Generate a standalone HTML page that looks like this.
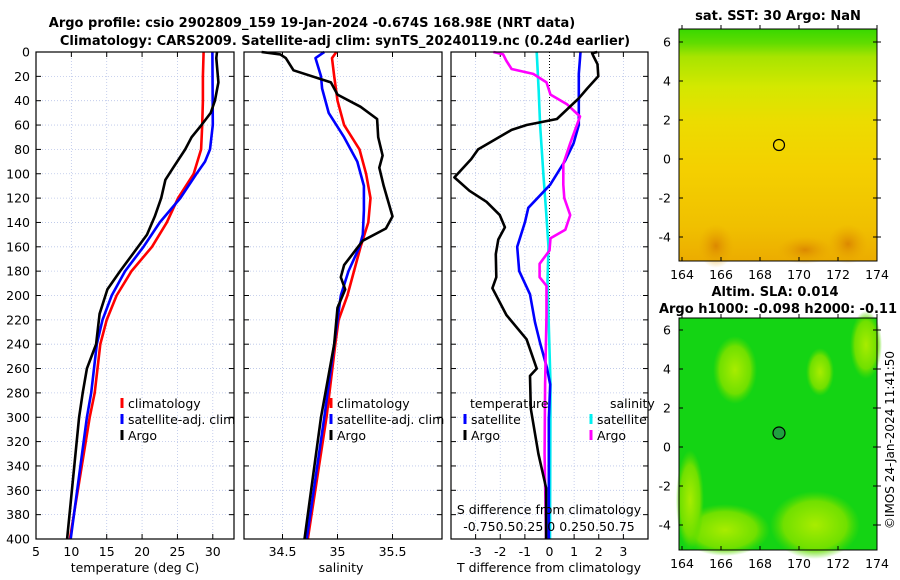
<!DOCTYPE html>
<html><head><meta charset="utf-8">
<style>
body{margin:0;background:#fff;}
svg{display:block;font-family:"DejaVu Sans","Liberation Sans",sans-serif;}
</style></head>
<body>
<svg id="c" width="900" height="580" viewBox="0 0 900 580">
<defs>
<linearGradient id="sstg" x1="0" y1="0" x2="0" y2="1">
<stop offset="0" stop-color="#38d800"/><stop offset="0.06" stop-color="#60dc00"/><stop offset="0.12" stop-color="#a8e400"/><stop offset="0.25" stop-color="#d4e800"/><stop offset="0.4" stop-color="#ecdc00"/><stop offset="0.6" stop-color="#f4d000"/><stop offset="0.85" stop-color="#f0c000"/><stop offset="1" stop-color="#ecac00"/>
</linearGradient>
<radialGradient id="org" cx="0.5" cy="0.5" r="0.5"><stop offset="0" stop-color="#dc8800"/><stop offset="1" stop-color="#e8a800" stop-opacity="0"/></radialGradient>
<radialGradient id="lg" cx="0.5" cy="0.5" r="0.5"><stop offset="0" stop-color="#a8ec00"/><stop offset="0.7" stop-color="#70e000"/><stop offset="1" stop-color="#50dc00" stop-opacity="0"/></radialGradient>
</defs>
<text x="312" y="27" text-anchor="middle" font-size="13" font-weight="bold">Argo profile: csio 2902809_159 19-Jan-2024 -0.674S 168.98E (NRT data)</text>
<text x="345" y="45" text-anchor="middle" font-size="13" font-weight="bold">Climatology: CARS2009. Satellite-adj clim: synTS_20240119.nc (0.24d earlier)</text>
<g id="plots"></g>

<!-- SST map -->
<g>
<text x="778" y="20" text-anchor="middle" font-size="13" font-weight="bold">sat. SST: 30 Argo: NaN</text>
<rect x="679" y="29" width="198" height="232" fill="url(#sstg)"/>
<ellipse cx="716" cy="246" rx="18" ry="22" fill="url(#org)"/>
<ellipse cx="805" cy="250" rx="28" ry="14" fill="url(#org)"/>
<ellipse cx="848" cy="244" rx="20" ry="20" fill="url(#org)"/>
<circle cx="779" cy="145" r="5.5" fill="none" stroke="#000" stroke-width="1.2"/>
<rect x="679" y="29" width="198" height="232" fill="none" stroke="#000" stroke-width="1"/>
</g>
<!-- SLA map -->
<g>
<text x="775" y="296" text-anchor="middle" font-size="13" font-weight="bold">Altim. SLA: 0.014</text>
<text x="778" y="313" text-anchor="middle" font-size="13" font-weight="bold">Argo h1000: -0.098 h2000: -0.11</text>
<rect x="679" y="318" width="198" height="232" fill="#14d414"/>
<ellipse cx="866" cy="345" rx="16" ry="34" fill="url(#lg)"/>
<ellipse cx="735" cy="370" rx="22" ry="34" fill="url(#lg)"/>
<ellipse cx="820" cy="372" rx="14" ry="24" fill="url(#lg)"/>
<ellipse cx="815" cy="525" rx="45" ry="34" fill="url(#lg)"/>
<ellipse cx="725" cy="530" rx="45" ry="26" fill="url(#lg)"/>
<ellipse cx="690" cy="500" rx="14" ry="50" fill="url(#lg)"/>
<circle cx="779" cy="433" r="6" fill="#20a040" stroke="#000" stroke-width="1.2"/>
<rect x="679" y="318" width="198" height="232" fill="none" stroke="#000" stroke-width="1"/>
</g>
<text transform="translate(894,440) rotate(-90)" text-anchor="middle" font-size="12">©IMOS 24-Jan-2024 11:41:50</text>
</svg>
<script>
// ---------- data ----------
const depthTicks=[0,20,40,60,80,100,120,140,160,180,200,220,240,260,280,300,320,340,360,380,400];
const tempTicks=[5,10,15,20,25,30];
const salTicks=[34.5,35,35.5];
const salTickLabels=["34.5","35","35.5"];
const tdiffTicks=[-3,-2,-1,0,1,2,3];
const sdiffLabels="-0.750.50.25 0 0.250.50.75";

const climTempDepth=[0,20,40,60,80,100,120,140,160,180,200,220,240,280,300,400];
const climTemp=[28.7,28.6,28.6,28.5,28.35,27.3,25.1,23.5,21.4,18.5,16.4,15,14.1,13.3,12.6,9.8];
const satTempDepth=[0,60,80,90,100,120,140,160,180,200,220,240,280,300,400];
const satTemp=[29.95,30,29.6,28.9,27.7,25.4,22.5,20.2,17.6,15.7,14.4,13.6,12.8,12.2,9.9];
const argoTempDepth=[0,5,25,40,50,60,70,80,95,105,120,135,150,165,180,195,215,240,260,280,300,400];
const argoTemp=[30.6,30.5,30.8,30.3,29.7,28.4,27,26.1,24.4,23.3,22.7,21.8,20.7,18.8,16.9,15.1,14,13.5,12.2,11.6,11.1,9.4];

const climSalDepth=[0,5,20,40,60,80,100,120,140,160,180,200,220,240,300,400];
const climSal=[34.99,34.95,34.97,35.0,35.06,35.2,35.26,35.3,35.28,35.21,35.15,35.09,35.01,34.98,34.9,34.73];
const satSalDepth=[0,5,20,30,50,70,90,110,130,150,160,180,200,220,240,300,400];
const satSal=[34.88,34.8,34.85,34.86,34.92,35.06,35.18,35.24,35.24,35.23,35.2,35.1,35.03,35.0,34.97,34.88,34.72];
const argoSalDepth=[0,2,5,15,25,35,45,55,70,85,95,110,135,145,155,175,185,195,210,240,300,400];
const argoSal=[34.31,34.48,34.53,34.6,34.94,35.0,35.21,35.36,35.37,35.41,35.38,35.42,35.5,35.44,35.23,35.06,35.03,35.07,35.0,34.97,34.85,34.7];

const satTdDepth=[0,18,46,60,75,89,109,128,140,160,180,199,222,239,259,273,302,400];
const satTd=[1.26,1.19,1.19,1.19,0.98,0.64,0.03,-0.86,-1.0,-1.31,-1.23,-0.79,-0.59,-0.38,-0.11,0.03,-0.03,-0.03];
const argoTdDepth=[0,1,4,10,20,30,38,55,60,64,80,88,103,114,123,134,144,154,166,185,194,216,236,260,266,293,330,358,400];
const argoTd=[1.94,1.73,1.8,1.95,1.98,1.53,1.19,0.3,-0.93,-1.54,-2.9,-3.18,-3.86,-3.25,-2.56,-2.02,-1.81,-2.08,-2.18,-2.16,-2.32,-1.75,-0.93,-0.52,-0.79,-0.76,-0.45,-0.14,-0.14];
const satSdDepth=[0,32,60,103,131,160,188,273,400];
const satSd=[-0.13,-0.11,-0.095,-0.06,-0.035,-0.01,-0.02,0.01,0.005];
const argoSdDepth=[0,2,7,14,18,25,35,43,53,75,92,109,120,134,146,153,163,174,185,192,216,273,330,400];
const argoSd=[-0.57,-0.47,-0.44,-0.385,-0.165,-0.03,0.01,0.18,0.31,0.21,0.14,0.14,0.15,0.21,0.16,0.01,0,-0.1,-0.1,-0.03,-0.03,-0.045,-0.05,-0.035];

const mapLonTicks=[164,166,168,170,172,174];
const mapLatTicks=[6,4,2,0,-2,-4];

// ---------- drawing ----------
const NS="http://www.w3.org/2000/svg";
const root=document.getElementById('plots');
const svg=document.getElementById('c');
function mk(tag,attrs,parent){const e=document.createElementNS(NS,tag);for(const k in attrs)e.setAttribute(k,attrs[k]);(parent||root).appendChild(e);return e;}
const Y0=52,Y1=539;
const yD=d=>Y0+(Y1-Y0)*d/400;
function panel(x0,x1,v0,v1,name){
  const xs=v=>x0+(x1-x0)*(v-v0)/(v1-v0);
  const g=mk('g',{});
  
  
  return {xs,g,x0,x1};
}
function grid(p,vticks){
  depthTicks.forEach(d=>{
    const l=mk('line',{x1:p.x0,x2:p.x1,y1:yD(d),y2:yD(d),stroke:'#b8c4e8','stroke-width':0.8,'stroke-dasharray':'1,2'},p.g);
    
    
    mk('line',{x1:p.x0,x2:p.x0+5,y1:yD(d),y2:yD(d),stroke:'#000'},p.g);
    mk('line',{x1:p.x1-5,x2:p.x1,y1:yD(d),y2:yD(d),stroke:'#000'},p.g);
  });
  vticks.forEach(v=>{
    const l=mk('line',{x1:p.xs(v),x2:p.xs(v),y1:Y0,y2:Y1,stroke:'#b8c4e8','stroke-width':0.8,'stroke-dasharray':'1,2'},p.g);
    
    
    mk('line',{x1:p.xs(v),x2:p.xs(v),y1:Y1,y2:Y1-5,stroke:'#000'},p.g);
    mk('line',{x1:p.xs(v),x2:p.xs(v),y1:Y0,y2:Y0+5,stroke:'#000'},p.g);
  });
}
function frame(p){
  const r=mk('rect',{x:p.x0,y:Y0,width:p.x1-p.x0,height:Y1-Y0,fill:'none',stroke:'#000','stroke-width':1.2},p.g);
  
  
}
function line(p,depths,vals,color,name,conv){
  const pts=depths.map((d,i)=>p.xs(conv?conv(vals[i]):vals[i]).toFixed(1)+','+yD(d).toFixed(1)).join(' ');
  const l=mk('polyline',{points:pts,fill:'none',stroke:color,'stroke-width':2.6,'stroke-linejoin':'round'},p.g);
  
  
}
function text(x,y,s,opts,parent,name){
  const t=mk('text',Object.assign({x:x,y:y,'font-size':12.5},opts||{}),parent);
  t.textContent=s;
  
  
  return t;
}
function legend(p,x,y,color,label,name){
  mk('line',{x1:x,x2:x,y1:y-10,y2:y,stroke:color,'stroke-width':3},p.g);
  text(x+6,y,label,{},p.g,name);
}

// panel 1 temperature
const p1=panel(36,234,5,33,'temperature-panel');
grid(p1,tempTicks.slice(1));
line(p1,climTempDepth,climTemp,'#ff0000','climatology-temp-line');
line(p1,satTempDepth,satTemp,'#0000ff','satellite-temp-line');
line(p1,argoTempDepth,argoTemp,'#000000','argo-temp-line');
frame(p1);
depthTicks.forEach(d=>text(30,yD(d)+4.5,String(d),{'text-anchor':'end'},p1.g,'depth-tick-label'));
tempTicks.forEach(v=>text(p1.xs(v),556,String(v),{'text-anchor':'middle'},p1.g,'temp-tick-label'));
text(135,572,'temperature (deg C)',{'text-anchor':'middle'},p1.g,'temp-axis-title');
legend(p1,122,408,'#ff0000','climatology','legend-climatology');
legend(p1,122,424,'#0000ff','satellite-adj. clim','legend-satellite');
legend(p1,122,440,'#000000','Argo','legend-argo');

// panel 2 salinity
const p2=panel(244,442,34.15,35.95,'salinity-panel');
grid(p2,salTicks);
line(p2,climSalDepth,climSal,'#ff0000','climatology-sal-line');
line(p2,satSalDepth,satSal,'#0000ff','satellite-sal-line');
line(p2,argoSalDepth,argoSal,'#000000','argo-sal-line');
frame(p2);
salTicks.forEach((v,i)=>text(p2.xs(v),556,salTickLabels[i],{'text-anchor':'middle'},p2.g,'sal-tick-label'));
text(341,572,'salinity',{'text-anchor':'middle'},p2.g,'sal-axis-title');
legend(p2,331,408,'#ff0000','climatology','legend-climatology-2');
legend(p2,331,424,'#0000ff','satellite-adj. clim','legend-satellite-2');
legend(p2,331,440,'#000000','Argo','legend-argo-2');

// panel 3 differences
const p3=panel(451,648,-4,4,'difference-panel');
grid(p3,tdiffTicks.filter(v=>v!==0));
const zl=mk('line',{x1:p3.xs(0),x2:p3.xs(0),y1:Y0,y2:Y1,stroke:'#000','stroke-width':1,'stroke-dasharray':'1,2'},p3.g);


const sconv=s=>s*4;
line(p3,satSdDepth,satSd,'#00f0f0','satellite-sal-diff-line',sconv);
line(p3,satTdDepth,satTd,'#0000ff','satellite-temp-diff-line');
line(p3,argoSdDepth,argoSd,'#ff00ff','argo-sal-diff-line',sconv);
line(p3,argoTdDepth,argoTd,'#000000','argo-temp-diff-line');
frame(p3);
tdiffTicks.forEach(v=>text(p3.xs(v),556,String(v),{'text-anchor':'middle'},p3.g,'tdiff-tick-label'));
text(549,572,'T difference from climatology',{'text-anchor':'middle'},p3.g,'tdiff-axis-title');
text(549,514,'S difference from climatology',{'text-anchor':'middle'},p3.g,'sdiff-axis-title');
text(549,531,sdiffLabels,{'text-anchor':'middle'},p3.g,'sdiff-tick-labels');
text(470,408,'temperature',{},p3.g,'legend-temperature-heading');
text(610,408,'salinity',{},p3.g,'legend-salinity-heading');
legend(p3,465,424,'#0000ff','satellite','legend-temp-satellite');
legend(p3,465,440,'#000000','Argo','legend-temp-argo');
legend(p3,591,424,'#00f0f0','satellite','legend-sal-satellite');
legend(p3,591,440,'#ff00ff','Argo','legend-sal-argo');

// map axes
function mapAxes(top,bottom,lat6y,latm4y,name){
  const g=mk('g',{},svg);
  
  
  const lx=v=>682+(877-682)*(v-164)/10;
  const ly=v=>lat6y+(latm4y-lat6y)*(6-v)/10;
  mapLonTicks.forEach(v=>{
    mk('line',{x1:lx(v),x2:lx(v),y1:bottom,y2:bottom-4,stroke:'#000'},g);
    mk('line',{x1:lx(v),x2:lx(v),y1:top,y2:top-4,stroke:'#000'},g);
    text(lx(v),bottom+18,String(v),{'text-anchor':'middle'},g,'map-lon-tick');
  });
  mapLatTicks.forEach(v=>{
    mk('line',{x1:679,x2:683,y1:ly(v),y2:ly(v),stroke:'#000'},g);
    mk('line',{x1:873,x2:881,y1:ly(v),y2:ly(v),stroke:'#000'},g);
    text(671,ly(v)+4.5,String(v),{'text-anchor':'end'},g,'map-lat-tick');
  });
}
mapAxes(29,261,42,237,'sst-map-axes');
mapAxes(318,550,330,525,'sla-map-axes');
</script>
</body></html>
